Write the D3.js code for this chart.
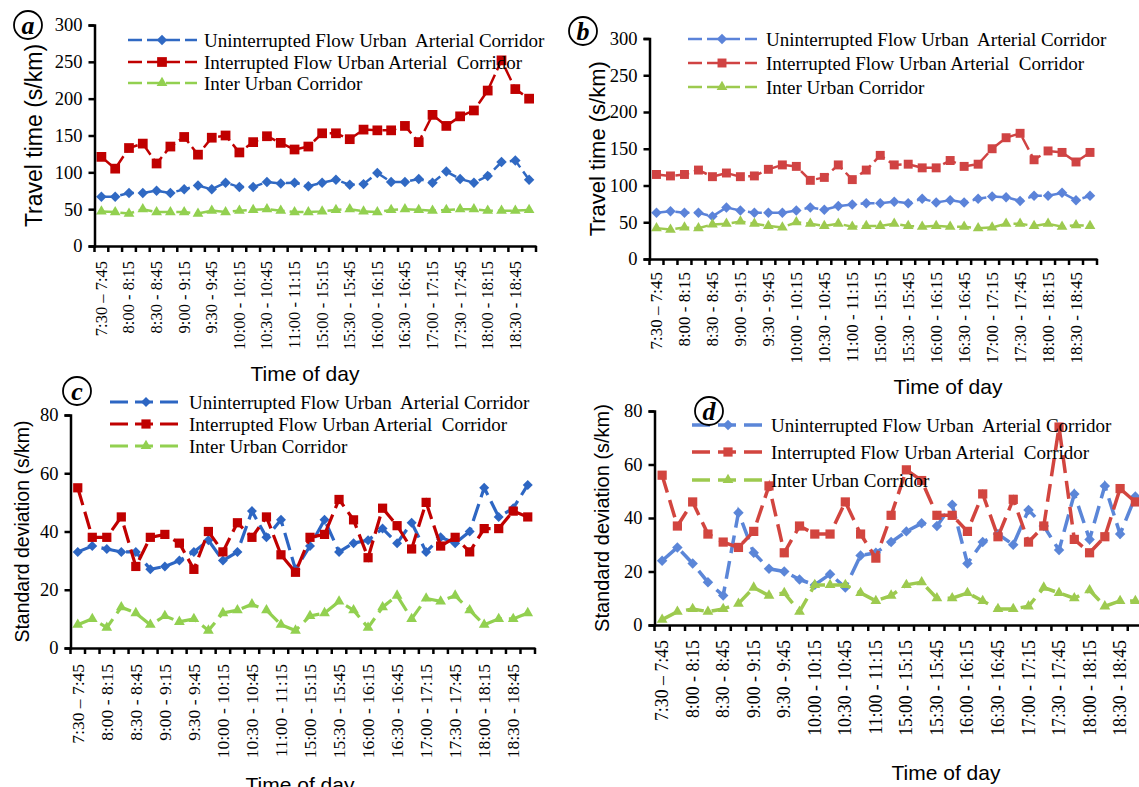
<!DOCTYPE html>
<html>
<head>
<meta charset="utf-8">
<script src="https://cdn.jsdelivr.net/npm/d3@7"></script>
<style>
  body { margin: 0; background: #fff; }
  text { white-space: pre; }
</style>
</head>
<body>
<div id="container"></div>
<script>
let w = 1139;
let h = 787;

// 15-minute intervals, morning and evening peak
let times = ["7:30 \u2013 7:45","7:45 - 8:00","8:00 - 8:15","8:15 - 8:30","8:30 - 8:45","8:45 - 9:00",
  "9:00 - 9:15","9:15 - 9:30","9:30 - 9:45","9:45 - 10:00","10:00 - 10:15","10:15 - 10:30",
  "10:30 - 10:45","10:45 - 11:00","11:00 - 11:15","11:15 - 11:30","15:00 - 15:15","15:15 - 15:30",
  "15:30 - 15:45","15:45 - 16:00","16:00 - 16:15","16:15 - 16:30","16:30 - 16:45","16:45 - 17:00",
  "17:00 - 17:15","17:15 - 17:30","17:30 - 17:45","17:45 - 18:00","18:00 - 18:15","18:15 - 18:30",
  "18:30 - 18:45","18:45 - 19:00"];

let seriesNames = ["Uninterrupted Flow Urban  Arterial Corridor",
                   "Interrupted Flow Urban Arterial  Corridor",
                   "Inter Urban Corridor"];

// (a) travel time
let aUninterrupted = [67,67,72,72,75,72,77,82,77,86,80,80,87,85,86,81,86,90,83,84,99,87,87,91,86,101,91,86,95,114,116,90];
let aInterrupted   = [121,105,133,139,112,135,148,124,147,150,127,141,149,140,131,135,153,153,145,158,157,157,163,141,178,163,176,184,211,252,213,200];
let aInterUrban    = [47,46,44,50,46,46,46,44,48,46,48,49,50,48,46,46,47,49,50,47,46,49,50,49,48,49,50,50,48,48,48,49];

// (b) travel time
let bUninterrupted = [63,65,63,63,58,70,66,63,63,63,66,70,67,72,74,76,76,78,76,82,77,80,77,82,85,84,79,86,86,90,80,86];
let bInterrupted   = [115,113,115,121,112,117,112,113,122,128,126,107,111,128,108,121,141,128,129,124,124,134,126,129,150,165,171,135,147,145,132,145];
let bInterUrban    = [42,40,43,42,47,48,51,48,45,43,50,48,45,48,44,45,45,48,45,44,45,44,44,42,43,48,48,45,48,44,46,45];

// (c) standard deviation
let cUninterrupted = [33,35,34,33,33,27,28,30,33,37,30,33,47,38,44,27,35,44,33,36,37,41,36,43,33,38,36,40,55,45,48,56];
let cInterrupted   = [55,38,38,45,28,38,39,36,27,40,33,43,38,45,32,26,38,39,51,44,31,48,42,34,50,35,38,33,41,41,47,45];
let cInterUrban    = [8,10,7,14,12,8,11,9,10,6,12,13,15,13,8,6,11,12,16,13,7,14,18,10,17,16,18,13,8,10,10,12];

// (d) standard deviation
let dUninterrupted = [24,29,23,16,11,42,27,21,20,17,15,19,14,26,27,31,35,38,37,45,23,31,34,30,43,37,28,49,32,52,34,48];
let dInterrupted   = [56,37,46,34,31,29,35,52,27,37,34,34,46,34,25,41,58,54,41,41,35,49,33,47,31,37,74,32,27,33,51,46];
let dInterUrban    = [2,5,6,5,6,8,14,11,12,5,15,15,15,12,9,11,15,16,10,10,12,9,6,6,7,14,12,10,13,7,9,9];

let ttTicks = [0,50,100,150,200,250,300];
let sdTicks = [0,20,40,60,80];

let serif = "'Liberation Serif','Times New Roman',serif";
let sans = "'Liberation Sans',Arial,sans-serif";

let viz = d3.select("#container").append("svg")
    .attr("width", w)
    .attr("height", h)
    .style("background-color", "white");

let panels = [
  {letter:"a", cx:28, cy:25, left:94.5, right:536, top:25, bottom:246, max:300, ticks:ttTicks,
   yTitle:"Travel time (s/km)", yTitleX:34, yTitleSize:23, xTitleX:305, xTitleY:381,
   xLabSize:16.5, xLabOff:15,
   lw:2.5, dash:"14,5", leg:{x0:128, x1:197, mx:162, tx:204, ys:[40,62,83], size:19},
   colors:["#3069c3","#c00000","#92d050"], msize:[55,95,50],
   values:[aUninterrupted,aInterrupted,aInterUrban]},
  {letter:"b", cx:583, cy:31, left:649.5, right:1097, top:38.5, bottom:259, max:300, ticks:ttTicks,
   yTitle:"Travel time (s/km)", yTitleX:597, yTitleSize:22, xTitleX:948, xTitleY:394,
   xLabSize:17, xLabOff:13,
   lw:2.5, dash:"14,5", leg:{x0:688, x1:757, mx:722, tx:766, ys:[39,63,87], size:19},
   colors:["#5b83d9","#d04343","#9dca4f"], msize:[55,80,50],
   values:[bUninterrupted,bInterrupted,bInterUrban]},
  {letter:"c", cx:77, cy:391, left:70.5, right:535, top:415, bottom:648, max:80, ticks:sdTicks,
   yTitle:"Standard deviation (s/km)", yTitleX:22, yTitleSize:19.5, xTitleX:300, xTitleY:792,
   xLabSize:17.5, xLabOff:16,
   lw:3.2, dash:"18,7", leg:{x0:110, x1:183, mx:146, tx:189, ys:[402,424,446], size:19},
   colors:["#2d66c3","#c00000","#92d050"], msize:[50,85,50],
   values:[cUninterrupted,cInterrupted,cInterUrban]},
  {letter:"d", cx:709, cy:411, left:654.5, right:1143, top:411, bottom:625, max:80, ticks:sdTicks,
   yTitle:"Standard deviation (s/km)", yTitleX:602, yTitleSize:20, xTitleX:946, xTitleY:780,
   xLabSize:17.8, xLabOff:15,
   lw:3.5, dash:"18,8", leg:{x0:692, x1:764, mx:728, tx:771, ys:[425,452,480], size:19},
   colors:["#5b86d8","#d2453f","#9dca4f"], msize:[55,85,50],
   values:[dUninterrupted,dInterrupted,dInterUrban]}
];

let symbols = [d3.symbolSquare, d3.symbolSquare, d3.symbolTriangle];
let rotations = [45, 0, 0];

panels.forEach(drawPanel);

function drawPanel(p){
  let g = viz.append("g").attr("class", "panel-" + p.letter);

  let xScale = d3.scaleBand().domain(times).range([p.left, p.right]);
  let yScale = d3.scaleLinear().domain([0, p.max]).range([p.bottom, p.top]);
  let cx = d => xScale(d.t) + xScale.bandwidth()/2;

  // series lines and markers
  p.values.forEach((vals, si) => {
    let pts = vals.map((v, i) => ({t: times[i], v: v}));
    let line = d3.line().x(cx).y(d => yScale(d.v));
    g.append("path")
      .datum(pts)
      .attr("d", line)
      .attr("fill", "none")
      .attr("stroke", p.colors[si])
      .attr("stroke-width", p.lw)
      .attr("stroke-dasharray", p.dash);
    g.selectAll(".m" + si).data(pts).enter()
      .append("path")
        .attr("class", "m" + si)
        .attr("d", d3.symbol(symbols[si], p.msize[si]))
        .attr("transform", d => "translate(" + cx(d) + "," + yScale(d.v) + ") rotate(" + rotations[si] + ")")
        .attr("fill", p.colors[si]);
  });

  // y axis
  let yAxis = d3.axisLeft(yScale).tickValues(p.ticks).tickSizeOuter(0).tickSize(6).tickPadding(6);
  let yAxisGroup = g.append("g")
      .attr("transform", "translate(" + p.left + ",0)")
      .call(yAxis);
  yAxisGroup.select(".domain").attr("stroke-width", 2.5).attr("stroke", "#000");
  yAxisGroup.selectAll("line").attr("stroke-width", 2.5);
  yAxisGroup.selectAll("text")
      .style("font-family", serif)
      .style("font-size", "18.5px")
      .attr("fill", "#000");

  // x axis: ticks on category boundaries, labels on every other category
  let xAxis = d3.axisBottom(xScale).tickSize(0).tickPadding(0)
      .tickFormat((d, i) => i % 2 == 0 ? d : "");
  let xAxisGroup = g.append("g")
      .attr("transform", "translate(0," + p.bottom + ")")
      .call(xAxis);
  xAxisGroup.select(".domain").attr("stroke-width", 2.5).attr("stroke", "#000");
  xAxisGroup.selectAll("text")
      .attr("text-anchor", "end")
      .attr("dominant-baseline", "central")
      .attr("dy", null)
      .attr("y", 0)
      .attr("transform", "translate(0," + p.xLabOff + ") rotate(-90)")
      .style("font-family", serif)
      .style("font-size", p.xLabSize + "px")
      .attr("fill", "#000");
  let bounds = times.map(t => xScale(t)).concat([p.right]);
  g.selectAll(".xtick").data(bounds).enter()
    .append("line")
      .attr("class", "xtick")
      .attr("x1", d => d).attr("x2", d => d)
      .attr("y1", p.bottom).attr("y2", p.bottom + 6)
      .attr("stroke", "#000")
      .attr("stroke-width", 2.5);

  // titles
  g.append("text")
      .text(p.yTitle)
      .attr("transform", "translate(" + p.yTitleX + "," + (p.top + p.bottom)/2 + ") rotate(-90)")
      .attr("text-anchor", "middle")
      .attr("dominant-baseline", "central")
      .style("font-family", sans)
      .style("font-size", p.yTitleSize + "px");
  g.append("text")
      .text("Time of day")
      .attr("x", p.xTitleX)
      .attr("y", p.xTitleY)
      .attr("text-anchor", "middle")
      .style("font-family", sans)
      .style("font-size", "21px");

  // legend
  let L = p.leg;
  seriesNames.forEach((name, si) => {
    let ly = L.ys[si];
    g.append("line")
        .attr("x1", L.x0).attr("x2", L.x1)
        .attr("y1", ly).attr("y2", ly)
        .attr("stroke", p.colors[si])
        .attr("stroke-width", p.lw)
        .attr("stroke-dasharray", p.dash);
    g.append("path")
        .attr("d", d3.symbol(symbols[si], p.msize[si]))
        .attr("transform", "translate(" + L.mx + "," + ly + ") rotate(" + rotations[si] + ")")
        .attr("fill", p.colors[si]);
    g.append("text")
        .text(name)
        .attr("x", L.tx)
        .attr("y", ly)
        .attr("dominant-baseline", "central")
        .style("font-family", serif)
        .style("font-size", L.size + "px")
        .attr("fill", "#000");
  });

  // panel letter in a circle
  g.append("circle")
      .attr("cx", p.cx).attr("cy", p.cy).attr("r", 14)
      .attr("fill", "white")
      .attr("stroke", "#000")
      .attr("stroke-width", 1.8);
  g.append("text")
      .text(p.letter)
      .attr("x", p.cx).attr("y", p.cy)
      .attr("text-anchor", "middle")
      .attr("dominant-baseline", "central")
      .style("font-family", serif)
      .style("font-weight", "bold")
      .style("font-style", "italic")
      .style("font-size", "26px");
}
</script>
</body>
</html>
